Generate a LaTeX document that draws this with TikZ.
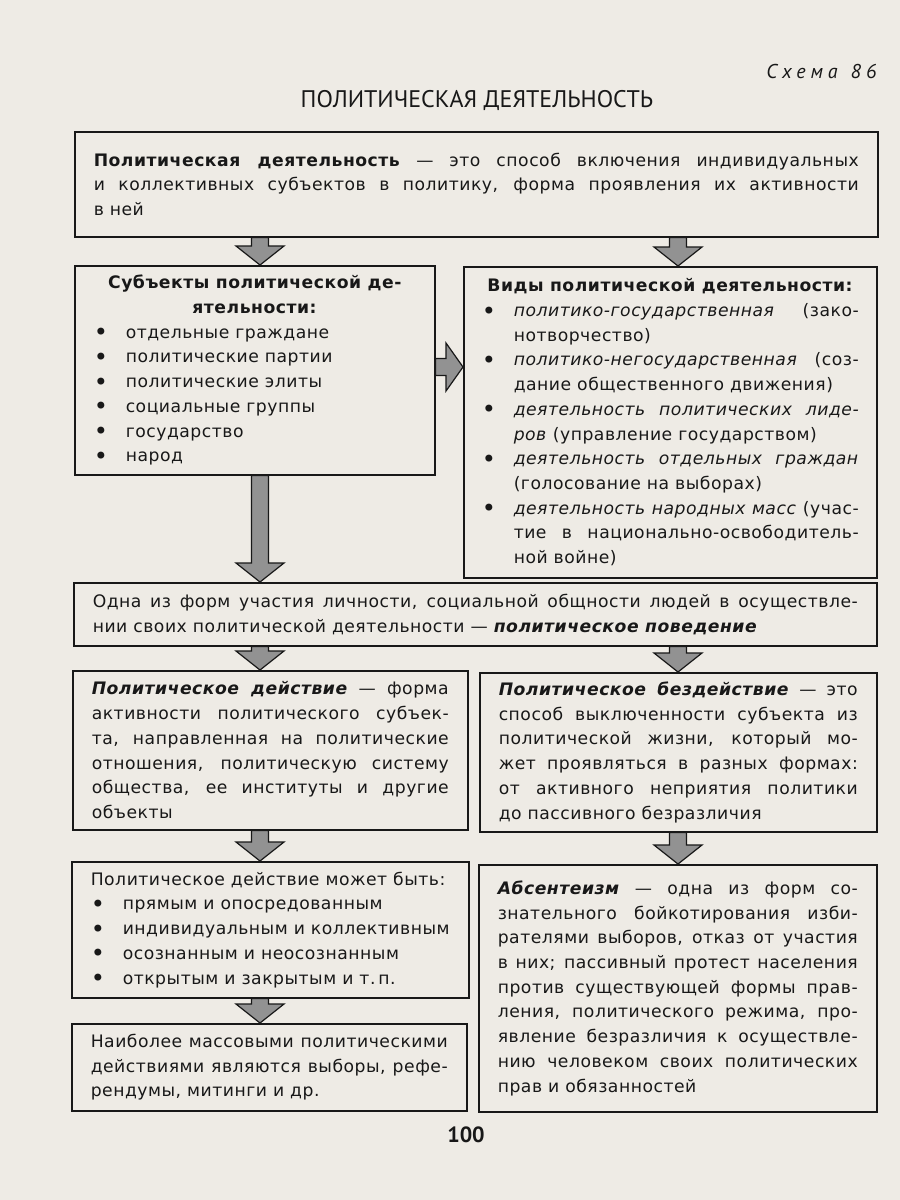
\documentclass[tikz,border=0pt]{standalone}
\usepackage{fontspec}
\setmainfont{DejaVu Sans}[LetterSpace=3]
\newfontfamily\headfont{PT Sans}
\usetikzlibrary{calc}
\definecolor{paper}{RGB}{238,235,229}
\definecolor{arrowgray}{RGB}{146,146,146}
\definecolor{ink}{RGB}{24,24,24}
\newcommand{\itm}{\par\hangindent=32pt\hangafter=1\noindent
  \hbox to 32pt{\raisebox{-2.5pt}{\fontsize{24}{24}\selectfont\textbullet}\hfil}}
\tikzset{
  box/.style={draw=ink, line width=1.5pt, anchor=north west, inner xsep=19pt, inner ysep=0pt,
    align=justify, text=ink, font=\fontsize{17.2}{24.7}\selectfont},
  downarr/.style={draw=ink, fill=arrowgray, line width=1.2pt, to path={
    let \p1=(\tikztostart), \p2=(\tikztotarget) in
    (\x1-8.5pt,\y1) -- (\x1-8.5pt,\y2+19pt) -- (\x1-24pt,\y2+19pt) -- (\x1,\y2)
    -- (\x1+24pt,\y2+19pt) -- (\x1+8.5pt,\y2+19pt) -- (\x1+8.5pt,\y1) -- cycle}},
  rightarr/.style={draw=ink, fill=arrowgray, line width=1.2pt, to path={
    let \p1=(\tikztostart), \p2=(\tikztotarget) in
    (\x1,\y1+8.5pt) -- (\x2-17pt,\y1+8.5pt) -- (\x2-17pt,\y1+24pt) -- (\x2,\y1)
    -- (\x2-17pt,\y1-24pt) -- (\x2-17pt,\y1-8.5pt) -- (\x1,\y1-8.5pt) -- cycle}}
}
\begin{document}
\begin{tikzpicture}[x=1pt,y=-1pt]
  \useasboundingbox (0,0) rectangle (900,1200);
  \fill[paper] (0,0) rectangle (900,1200);

  % heading
  \node[font=\headfont\itshape\fontsize{20}{23}\selectfont, text=ink, anchor=east] (scheme) at (880,71)
    {\addfontfeature{LetterSpace=25}Схема\hspace{13pt}86};
  \node[font=\headfont\fontsize{24}{28}\selectfont, text=ink] (title) at (477,100) {ПОЛИТИЧЕСКАЯ ДЕЯТЕЛЬНОСТЬ};

  % boxes
  \node[box, text width=765pt, minimum height=105pt] (def) at (74,131)
    {\textbf{Политическая деятельность} — это способ включения индивидуальных\linebreak
     и коллективных субъектов в политику, форма проявления их активности\linebreak в ней};

  \node[box, text width=322pt, minimum height=209pt] (subj) at (74,265)
    {{\centering\textbf{Субъекты политической де-\\ятельности:}\par}
     \itm отдельные граждане
     \itm политические партии
     \itm политические элиты
     \itm социальные группы
     \itm государство
     \itm народ\par};

  \node[box, inner xsep=18pt, text width=377pt, minimum height=311pt] (kinds) at (463,266)
    {{\centering\textbf{Виды политической деятельности:}\par}
     \itm \textit{политико-государственная} (зако-\linebreak нотворчество)
     \itm \textit{политико-негосударственная} (соз-\linebreak дание общественного движения)
     \itm \textit{деятельность политических лиде-\linebreak ров} (управление государством)
     \itm \textit{деятельность отдельных граждан}\linebreak (голосование на выборах)
     \itm \textit{деятельность народных масс} (учас-\linebreak тие в национально-освободитель-\linebreak ной войне)\par};

  \node[box, text width=765pt, minimum height=63pt] (form) at (73,582)
    {Одна из форм участия личности, социальной общности людей в осуществле-\linebreak
     нии своих политической деятельности — \textbf{\textit{политическое поведение}}};

  \node[box, text width=357pt, minimum height=159pt] (act) at (72,670)
    {\textbf{\textit{Политическое действие}} — форма\linebreak активности политического субъек-\linebreak
     та, направленная на политические\linebreak отношения, политическую систему\linebreak
     общества, ее институты и другие\linebreak объекты};

  \node[box, text width=359pt, minimum height=159pt] (inact) at (479,672)
    {\textbf{\textit{Политическое бездействие}} — это\linebreak способ выключенности субъекта из\linebreak
     политической жизни, который мо-\linebreak жет проявляться в разных формах:\linebreak
     от активного неприятия политики\linebreak до пассивного безразличия};

  \node[box, text width=359pt, minimum height=136pt] (may) at (71,861)
    {Политическое действие может быть:
     \itm прямым и опосредованным
     \itm индивидуальным и коллективным
     \itm осознанным и неосознанным
     \itm открытым и закрытым и т.\,п.\par};

  \node[box, text width=357pt, minimum height=87pt] (mass) at (71,1023)
    {Наиболее массовыми политическими\linebreak действиями являются выборы, рефе-\linebreak
     рендумы, митинги и др.};

  \node[box, text width=360pt, minimum height=247pt] (abs) at (478,864)
    {\textbf{\textit{Абсентеизм}} — одна из форм со-\linebreak знательного бойкотирования изби-\linebreak
     рателями выборов, отказ от участия\linebreak в них; пассивный протест населения\linebreak
     против существующей формы прав-\linebreak ления, политического режима, про-\linebreak
     явление безразличия к осуществле-\linebreak нию человеком своих политических\linebreak
     прав и обязанностей};

  \node[font=\headfont\bfseries\fontsize{22}{25}\selectfont, text=ink] (page) at (466,1135) {100};

  % arrows
  \coordinate (lcol) at (260,0);
  \coordinate (rcol) at (678,0);
  \coordinate (midrow) at (0,367);
  \draw[downarr] (def.south -| lcol) to (subj.north -| lcol);
  \draw[downarr] (def.south -| rcol) to (kinds.north -| rcol);
  \draw[rightarr] (subj.east |- midrow) to (kinds.west |- midrow);
  \draw[downarr] (subj.south -| lcol) to (form.north -| lcol);
  \draw[downarr] (form.south -| lcol) to (act.north -| lcol);
  \draw[downarr] (form.south -| rcol) to (inact.north -| rcol);
  \draw[downarr] (act.south -| lcol) to (may.north -| lcol);
  \draw[downarr] (inact.south -| rcol) to (abs.north -| rcol);
  \draw[downarr] (may.south -| lcol) to (mass.north -| lcol);
\end{tikzpicture}
\end{document}
